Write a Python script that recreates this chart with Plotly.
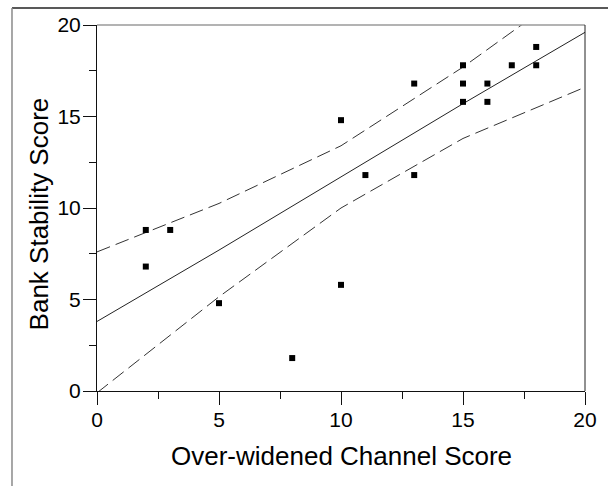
import plotly.graph_objects as go

x_obs = [2, 2, 3, 5, 8, 10, 10, 11, 13, 13, 15, 15, 15, 16, 16, 17, 18, 18]
y_obs = [8.8, 6.8, 8.8, 4.8, 1.8, 14.8, 5.8, 11.8, 16.8, 11.8,
         17.8, 16.8, 15.8, 16.8, 15.8, 17.8, 18.8, 17.8]

# Regression line and confidence band nodes
x_fit = [0, 5, 10, 15, 20]
y_fit = [3.8, 7.7, 11.7, 15.7, 19.6]
y_upper = [7.6, 10.25, 13.4, 17.7, 22.5]
y_lower = [-0.1, 5.15, 10.0, 13.8, 16.6]

x_ticks = [0, 5, 10, 15, 20]
y_ticks = [0, 5, 10, 15, 20]

FONT = "Liberation Sans, Arial, Helvetica, sans-serif"

fig = go.Figure()

fig.add_trace(go.Scatter(x=x_fit, y=y_upper, mode="lines",
                         line=dict(color="#333333", width=1, dash="14px,6px"),
                         hoverinfo="skip", showlegend=False))
fig.add_trace(go.Scatter(x=x_fit, y=y_lower, mode="lines",
                         line=dict(color="#333333", width=1, dash="14px,6px"),
                         hoverinfo="skip", showlegend=False))
fig.add_trace(go.Scatter(x=x_fit, y=y_fit, mode="lines",
                         line=dict(color="#222222", width=1),
                         hoverinfo="skip", showlegend=False))
fig.add_trace(go.Scatter(x=x_obs, y=y_obs, mode="markers",
                         marker=dict(symbol="square", size=6, color="black",
                                     line=dict(width=0)),
                         showlegend=False))

axis_common = dict(
    showgrid=False, zeroline=False, showline=True,
    linecolor="#111111", linewidth=1,
    ticks="outside", ticklen=13, tickwidth=1, tickcolor="#111111",
    tickfont=dict(family=FONT, size=21, color="black"),
    minor=dict(ticks="outside", ticklen=7, dtick=2.5, tickcolor="#111111", tickwidth=1,
               showgrid=False),
)

fig.update_xaxes(range=[0, 20], tickvals=x_ticks, ticklabelstandoff=-3, **axis_common)
fig.update_yaxes(range=[0, 20], tickvals=y_ticks, ticklabelstandoff=-2, **axis_common)

# plot box: top (grey) and right (dark)
shapes = [
    dict(type="line", xref="paper", yref="paper", x0=0, x1=1, y0=1, y1=1,
         line=dict(color="#9a9a9a", width=1.5)),
    dict(type="line", xref="paper", yref="paper", x0=1, x1=1, y0=0, y1=1,
         line=dict(color="#222222", width=1)),
    # outer frame (scanned figure border)
    dict(type="line", xref="paper", yref="paper", x0=-0.1742, x1=1.06,
         y0=1.0464, y1=1.0464, line=dict(color="#222222", width=1.5)),
    dict(type="line", xref="paper", yref="paper", x0=-0.1742, x1=-0.1742,
         y0=1.0464, y1=-0.3, line=dict(color="#8a8a8a", width=1.5)),
]

annotations = [
    dict(text="Over-widened Channel Score", xref="paper", yref="paper",
         x=0.5, y=-0.178, xanchor="center", yanchor="middle", showarrow=False,
         font=dict(family=FONT, size=26, color="black")),
    dict(text="Bank Stability Score", xref="paper", yref="paper",
         x=-0.117, y=0.485, xanchor="center", yanchor="middle", showarrow=False,
         textangle=-90, font=dict(family=FONT, size=26, color="black")),
]

fig.update_layout(
    width=608, height=486,
    margin=dict(l=97, r=23, t=25, b=95),
    paper_bgcolor="white", plot_bgcolor="white",
    shapes=shapes, annotations=annotations,
    showlegend=False,
)

fig.write_html("out.html")
